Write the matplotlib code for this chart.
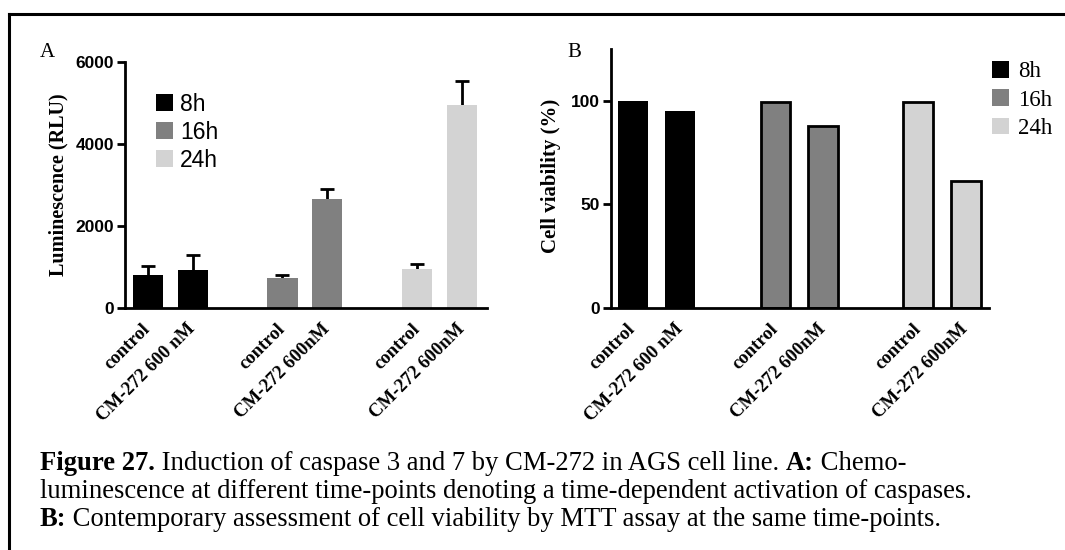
import matplotlib
matplotlib.use("Agg")
import matplotlib.pyplot as plt
from matplotlib.patches import Patch
from matplotlib.lines import Line2D

# data
groups = ["8h", "16h", "24h"]
colors = ["#000000", "#808080", "#d3d3d3"]
labels_a = ["control", "CM-272 600 nM", "control", "CM-272 600nM", "control", "CM-272 600nM"]
labels_b = ["control", "CM-272 600 nM", "control", "CM-272 600nM", "control", "CM-272 600nM"]
lum_mean = [810, 915, 730, 2650, 950, 4940]
lum_err = [205, 385, 80, 245, 120, 600]
viability = [100, 95.2, 99.5, 87.8, 99.5, 61.2]
positions = [0, 1, 3, 4, 6, 7]
bar_colors = [colors[0], colors[0], colors[1], colors[1], colors[2], colors[2]]

serif = "Liberation Serif"
sans = "Liberation Sans"

fig = plt.figure(figsize=(10.65, 5.5), dpi=100)

ax_a = fig.add_axes([0.1174, 0.44, 0.3399, 0.4473])
ax_b = fig.add_axes([0.5737, 0.44, 0.3549, 0.4709])


def style_axes(ax):
    for s in ["top", "right"]:
        ax.spines[s].set_visible(False)
    for s in ["left", "bottom"]:
        ax.spines[s].set_linewidth(2.0)
    ax.tick_params(axis="y", direction="out", length=6, width=2.0, pad=2,
                   labelsize=12.5)
    ax.tick_params(axis="x", length=0, pad=13)
    for t in ax.get_yticklabels():
        t.set_fontfamily(sans)
        t.set_fontweight("bold")


# panel A
ax_a.bar(positions, lum_mean, width=0.67, color=bar_colors, zorder=2)
ax_a.errorbar(positions, lum_mean, yerr=[[0] * 6, lum_err], fmt="none",
              ecolor="black", elinewidth=2, capsize=0, zorder=1)
# upper caps only
tops = [m + e for m, e in zip(lum_mean, lum_err)]
ax_a.plot(positions, tops, linestyle="none", marker="_", markersize=10,
          markeredgewidth=2, color="black", zorder=1)
ax_a.set_ylim(0, 6000)
ax_a.set_xlim(-0.51, 7.56)
ax_a.set_yticks([0, 2000, 4000, 6000])
ax_a.set_xticks(positions)
ax_a.set_xticklabels(labels_a, rotation=45, ha="right", va="center",
                     rotation_mode="anchor", fontfamily=serif,
                     fontweight="bold", fontsize=13.5)
style_axes(ax_a)
ax_a.set_ylabel("Luminescence (RLU)", fontfamily=serif, fontweight="bold",
                fontsize=14.5)
ax_a.yaxis.set_label_coords(-0.157, 0.5)
handles_a = [Patch(facecolor=c, edgecolor="none") for c in colors]
ax_a.legend(handles_a, groups, loc="upper left", bbox_to_anchor=(0.085, 0.875),
            frameon=False, borderpad=0, borderaxespad=0, handlelength=0.75,
            handleheight=0.75, handletextpad=0.3, labelspacing=0.22,
            prop={"family": sans, "size": 16.5})

# panel B
edge = ["none", "none", "black", "black", "black", "black"]
ax_b.bar(positions, viability, width=0.63, color=bar_colors,
         edgecolor=edge, linewidth=2.0, zorder=2)
ax_b.set_ylim(0, 125)
ax_b.set_xlim(-0.46, 7.49)
ax_b.set_yticks([0, 50, 100])
ax_b.set_xticks(positions)
ax_b.set_xticklabels(labels_b, rotation=45, ha="right", va="center",
                     rotation_mode="anchor", fontfamily=serif,
                     fontweight="bold", fontsize=13.5)
style_axes(ax_b)
ax_b.set_ylabel("Cell viability (%)", fontfamily=serif, fontweight="bold",
                fontsize=15)
ax_b.yaxis.set_label_coords(-0.133, 0.51)
handles_b = [Patch(facecolor=c, edgecolor="none") for c in colors]
ax_b.legend(handles_b, groups, loc="upper left", bbox_to_anchor=(0.931, 0.889),
            bbox_transform=fig.transFigure, frameon=False, borderpad=0,
            borderaxespad=0, handlelength=0.75, handleheight=0.75,
            handletextpad=0.4, labelspacing=0.3,
            prop={"family": serif, "size": 16.5})

# panel letters
fig.text(0.044, 0.905, "A", fontfamily=serif, fontsize=15, va="center", ha="center")
fig.text(0.539, 0.905, "B", fontfamily=serif, fontsize=15, va="center", ha="center")

# frame lines (top and left only visible in the crop)
fig.add_artist(Line2D([0.0085, 1.0], [1 - 14 / 550, 1 - 14 / 550],
                      transform=fig.transFigure, color="black", linewidth=2.2))
fig.add_artist(Line2D([0.0085, 0.0085], [0.0, 1 - 14 / 550],
                      transform=fig.transFigure, color="black", linewidth=2.2))

# caption, built from bold and regular pieces
cap_size = 19.2
x0 = 40 / 1065
fig.canvas.draw()
r = fig.canvas.get_renderer()


def caption_line(parts, y_px):
    x = x0
    for txt, bold in parts:
        t = fig.text(x, 1 - y_px / 550, txt, fontfamily=serif,
                     fontweight="bold" if bold else "normal",
                     fontsize=cap_size, va="baseline")
        x += t.get_window_extent(r).width / 1065


caption_line([("Figure 27.", True),
              (" Induction of caspase 3 and 7 by CM-272 in AGS cell line. ", False),
              ("A:", True), (" Chemo-", False)], 470)
caption_line([("luminescence at different time-points denoting a time-dependent "
               "activation of caspases.", False)], 498)
caption_line([("B:", True),
              (" Contemporary assessment of cell viability by MTT assay at the "
               "same time-points.", False)], 526)

fig.savefig("out.png", dpi=100)
